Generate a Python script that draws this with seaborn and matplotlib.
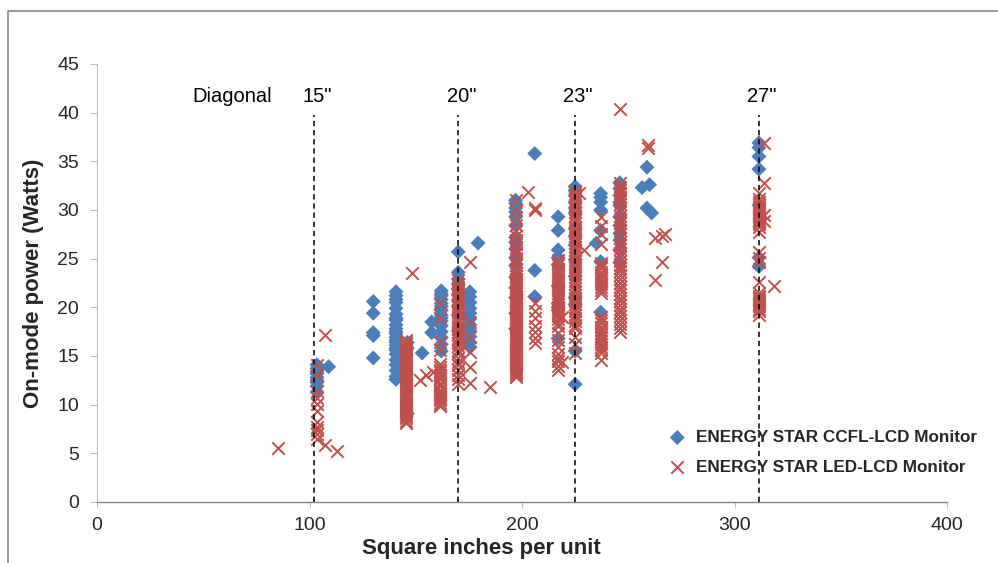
import matplotlib
matplotlib.use('Agg')
import matplotlib.pyplot as plt
import seaborn as sns
import pandas as pd
from matplotlib.lines import Line2D
from matplotlib.ticker import FixedLocator

# ---------------- data ----------------
ccfl_label = 'ENERGY STAR CCFL-LCD Monitor'
led_label = 'ENERGY STAR LED-LCD Monitor'

# x position (square inches) of each column of points, and the y values (W) in it
ccfl_cols = [103.5, 109.0, 130.0, 140.7, 146.0, 153.0, 157.5, 162.0, 170.0, 175.5,
             179.3, 197.0, 206.0, 217.0, 225.0, 235.0, 237.0, 246.0, 256.5, 258.8,
             260.0, 261.0, 311.5]
ccfl_vals = [
    [14.1, 13.7, 13.4, 13.2, 12.8, 12.5, 12.3, 11.9, 11.3],
    [13.9],
    [20.6, 19.4, 17.4, 17.1, 14.8],
    [21.6, 21.2, 20.8, 20.5, 19.9, 19.3, 18.9, 18.7, 18.2, 17.8, 17.5, 17.3, 16.9, 16.6, 16.4, 16.1,
     15.8, 15.6, 15.2, 14.6, 14.1, 13.5, 12.9, 12.6],
    [16.4, 15.8, 9.1],
    [15.3],
    [18.5, 17.4],
    [21.7, 21.4, 21.2, 20.8, 20.4, 20.1, 19.7, 19.2, 18.9, 18.6, 18.1, 17.5, 16.9, 16.2, 15.5],
    [25.7, 23.6, 22.9, 22.4, 21.9, 21.3, 20.7, 20.1, 19.2, 17.6],
    [21.6, 21.1, 20.5, 19.9, 19.4, 18.8, 18.2, 17.6, 17.0, 16.4, 15.9],
    [26.6],
    [31.0, 30.7, 30.2, 29.8, 29.3, 28.4, 27.2, 26.7, 26.0, 25.1, 24.3, 23.1, 22.0, 21.0, 19.4, 17.8],
    [35.8, 23.8, 21.1],
    [29.3, 27.9, 25.9, 25.1, 24.4, 22.2, 20.4, 20.0, 19.7, 16.8],
    [32.4, 32.0, 31.5, 30.8, 30.2, 29.7, 28.1, 27.3, 26.4, 24.9, 23.2, 21.0, 20.3, 15.5, 12.1],
    [26.6],
    [31.7, 31.3, 30.8, 30.0, 27.9, 24.7, 19.5],
    [32.8, 32.2, 31.5, 30.8, 30.5, 29.3, 28.4, 27.6, 26.9, 25.9, 24.6],
    [32.3],
    [34.4, 30.2],
    [32.6],
    [29.7],
    [36.9, 36.4, 35.5, 34.2, 30.5, 25.1, 24.2],
]

led_cols = [85.0, 103.5, 107.5, 113.0, 145.5, 148.0, 152.0, 155.0, 158.0, 161.5,
            170.0, 175.5, 185.0, 197.0, 203.0, 206.0, 217.0, 219.0, 225.0, 227.0,
            229.0, 237.0, 246.0, 259.3, 262.6, 266.0, 267.5, 311.5, 314.0, 318.5]
led_vals = [
    [5.5],
    [14.1, 13.0, 11.4, 10.7, 10.1, 9.4, 8.2, 7.7, 7.4, 7.0, 6.5],
    [17.2, 5.9],
    [5.2],
    [16.6, 16.4, 16.2, 15.9, 15.7, 15.5, 15.2, 14.9, 14.7, 14.5, 14.2, 14.0, 13.8, 13.5, 13.3, 13.1,
     12.8, 12.6, 12.4, 12.1, 11.9, 11.7, 11.4, 11.2, 11.1, 10.9, 10.7, 10.4, 10.2, 10.0, 9.8, 9.7,
     9.5, 9.3, 9.0, 8.8, 8.6, 8.3, 8.1],
    [23.5],
    [12.5],
    [13.0],
    [13.4],
    [20.4, 18.9, 16.4, 15.6, 14.2, 13.9, 13.6, 13.4, 13.0, 12.8, 12.6, 12.2, 12.0, 11.9, 11.5, 11.3,
     11.1, 10.8, 10.6, 10.5, 10.2, 10.0, 9.9],
    [22.8, 22.4, 22.1, 21.8, 21.5, 21.2, 20.9, 20.6, 20.3, 20.0, 19.7, 19.4, 19.0, 18.7, 18.5, 18.1,
     17.8, 17.5, 17.3, 16.9, 16.6, 16.3, 16.0, 15.6, 15.3, 14.8, 14.4, 14.1, 13.6, 13.0, 12.6, 12.1],
    [24.7, 18.5, 17.0, 15.4, 13.9, 12.2],
    [11.8],
    [31.0, 30.0, 29.2, 28.5, 27.8, 27.3, 26.9, 26.5, 26.0, 25.6, 25.1, 24.7, 24.3, 23.9, 23.5, 23.2,
     22.9, 22.6, 22.3, 22.0, 21.7, 21.5, 21.2, 21.0, 20.8, 20.6, 20.3, 20.1, 19.9, 19.7, 19.5, 19.3,
     19.0, 18.8, 18.6, 18.4, 18.2, 18.0, 17.8, 17.6, 17.3, 17.1, 16.9, 16.7, 16.5, 16.3, 16.1, 15.9,
     15.6, 15.4, 15.2, 15.0, 14.8, 14.6, 14.4, 14.2, 13.9, 13.7, 13.5, 13.3, 13.0, 12.8],
    [31.9],
    [30.2, 30.0, 20.4, 19.6, 18.9, 18.1, 17.5, 16.8, 16.3],
    [24.9, 24.6, 24.3, 23.9, 23.6, 23.3, 23.0, 22.7, 22.4, 22.1, 21.8, 21.5, 21.2, 20.9, 20.6, 20.3,
     20.0, 19.7, 19.4, 19.1, 18.8, 18.4, 18.1, 17.4, 16.6, 15.9, 15.2, 14.8, 14.5, 14.0, 13.6],
    [19.0, 14.4],
    [32.0, 31.6, 31.2, 30.9, 30.5, 30.2, 29.8, 29.4, 29.0, 28.7, 28.3, 28.0, 27.6, 27.3, 26.9, 26.6,
     26.2, 25.9, 25.5, 25.2, 24.8, 24.5, 24.1, 23.8, 23.4, 23.1, 22.7, 22.4, 22.0, 21.7, 21.3, 21.0,
     20.6, 20.3, 19.9, 19.6, 19.2, 18.9, 18.6, 18.2, 17.9, 17.0, 16.2, 15.3],
    [31.7],
    [25.9],
    [29.3, 28.4, 27.5, 26.5, 24.6, 24.3, 24.0, 23.6, 23.3, 23.0, 22.7, 22.4, 22.1, 21.8, 21.5, 19.0,
     18.7, 18.4, 18.0, 17.7, 17.4, 17.1, 16.8, 16.5, 16.2, 15.9, 15.6, 15.3, 14.6],
    [40.4, 32.8, 32.4, 32.1, 31.7, 31.3, 31.0, 30.6, 30.2, 29.8, 29.4, 29.0, 28.7, 28.3, 27.9, 27.5,
     27.1, 26.7, 26.4, 26.0, 25.6, 25.2, 24.8, 24.4, 24.0, 23.7, 23.3, 22.9, 22.5, 22.1, 21.8, 21.4,
     21.0, 20.6, 20.2, 19.8, 19.5, 19.1, 18.7, 18.3, 17.9, 17.5],
    [36.7, 36.4],
    [27.1, 22.8],
    [27.3, 24.7],
    [27.5],
    [31.7, 31.1, 30.8, 30.5, 30.3, 30.1, 29.8, 29.6, 29.4, 29.2, 29.0, 28.8, 28.6, 28.3, 27.7, 25.7,
     25.1, 24.7, 22.6, 21.5, 21.2, 21.0, 20.8, 20.5, 20.3, 20.1, 19.8, 19.6, 19.2],
    [36.9, 32.8, 29.5, 28.9],
    [22.2],
]

diag_x = [102.0, 170.0, 225.0, 311.5]
diag_labels = ['15"', '20"', '23"', '27"']
x_ticks = [0, 100, 200, 300, 400]
y_ticks = [0, 5, 10, 15, 20, 25, 30, 35, 40, 45]
grid_y = [5, 15, 25, 35]

# ---------------- build table ----------------
rows = []
for x, ys in zip(ccfl_cols, ccfl_vals):
    for y in ys:
        rows.append((ccfl_label, x, y))
for x, ys in zip(led_cols, led_vals):
    for y in ys:
        rows.append((led_label, x, y))
df = pd.DataFrame(rows, columns=['series', 'x', 'y'])

# ---------------- style ----------------
sns.set_theme(style='white')
plt.rcParams['font.family'] = ['Liberation Sans', 'DejaVu Sans']

BLUE = '#4A7EBB'
RED = '#C0504D'

fig = plt.figure(figsize=(9.98, 5.63), dpi=100)
ax = fig.add_axes([97 / 998, 1 - 502 / 563, 850 / 998, 438 / 563])

sns.scatterplot(data=df[df.series == ccfl_label], x='x', y='y', marker='D', s=58,
                color=BLUE, edgecolor='none', linewidth=0, ax=ax, label=ccfl_label, zorder=3)
sns.scatterplot(data=df[df.series == led_label], x='x', y='y', marker='x', s=80,
                color=RED, linewidth=1.4, ax=ax, label=led_label, zorder=4)

ax.set_xlim(0, 400)
ax.set_ylim(0, 45)
ax.set_xticks(x_ticks)
ax.set_yticks(y_ticks)
ax.yaxis.set_minor_locator(FixedLocator(grid_y))
ax.grid(False)
ax.grid(which='minor', axis='y', color='#868686', linewidth=1.0)
ax.set_axisbelow(True)
ax.tick_params(which='minor', length=0)
ax.tick_params(axis='y', which='major', direction='out', length=5, width=0.8,
               color='#BFBFBF', labelsize=14, pad=8, left=True)
ax.tick_params(axis='x', which='major', direction='out', length=4.5, width=0.8,
               color='#BFBFBF', labelsize=14, pad=6, bottom=True)

for s in ['top', 'right']:
    ax.spines[s].set_visible(False)
ax.spines['left'].set_color('#BFBFBF')
ax.spines['left'].set_linewidth(0.8)
ax.spines['bottom'].set_color('#868686')
ax.spines['bottom'].set_linewidth(1.0)

# diagonal reference lines
ax.vlines(diag_x, 0, 39.8, colors='black', linestyles=(0, (3.5, 2.5)), linewidth=1.1, zorder=5)
for x, lab in zip(diag_x, diag_labels):
    ax.text(x + 1.5, 41.7, lab, ha='center', va='center', fontsize=14.5, color='black')
ax.text(63.5, 41.7, 'Diagonal', ha='center', va='center', fontsize=14.5, color='black')

ax.set_xlabel('Square inches per unit', fontsize=16, fontweight='bold')
ax.set_ylabel('On-mode power (Watts)', fontsize=16, fontweight='bold')
ax.xaxis.set_label_coords(0.452, -0.083)
ax.yaxis.set_label_coords(-0.062, 0.5)

handles, labels = ax.get_legend_handles_labels()
ax.legend(handles, labels, loc='upper left', bbox_to_anchor=(667 / 998, 1 - 430 / 563),
          bbox_transform=fig.transFigure, frameon=False, borderpad=0, borderaxespad=0,
          handlelength=1.2, handletextpad=0.5, labelspacing=0.85,
          prop={'weight': 'bold', 'size': 12.3})

# outer chart frame (partly cropped in the reference)
fig.add_artist(Line2D([8 / 998, 8 / 998, 1.0], [0.0, 1 - 11 / 563, 1 - 11 / 563],
                      transform=fig.transFigure, color='#868686', linewidth=1.2))

fig.savefig('out.png', dpi=100)
